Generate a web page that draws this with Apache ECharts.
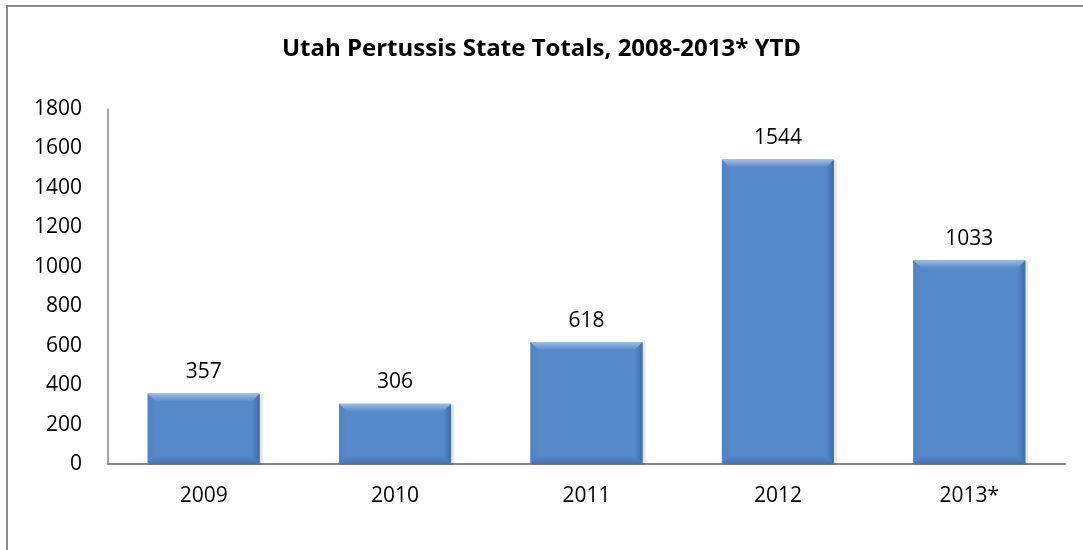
<!DOCTYPE html>
<html><head><meta charset="utf-8">
<script src="https://cdn.jsdelivr.net/npm/echarts@6/dist/echarts.min.js"></script>
<style>html,body{margin:0;padding:0;background:#fff}#c{width:1083px;height:550px}</style>
</head><body><div id="c"></div>
<script>
var categories = ['2009', '2010', '2011', '2012', '2013*'];
var values = [357, 306, 618, 1544, 1033];
var yTicks = [0, 200, 400, 600, 800, 1000, 1200, 1400, 1600, 1800];
var titleText = 'Utah Pertussis State Totals, 2008-2013* YTD';

var FONT = '"Open Sans", "Noto Sans", sans-serif';
var chart = echarts.init(document.getElementById('c'), null, {renderer: 'canvas'});
var G = echarts.graphic.LinearGradient;
var MAIN = '#5589C8';

function renderBar(params, api) {
  var i = api.value(0), v = api.value(1);
  var top = api.coord([i, v]);
  var base = api.coord([i, 0]);
  var band = api.size([1, 0])[0];
  var w = band * 0.585;
  var x0 = top[0] - w / 2, x1 = top[0] + w / 2;
  var y0 = top[1], y1 = base[1];
  var b = 8;
  var bb = Math.min(b, (y1 - y0) / 2);
  return {
    type: 'group',
    children: [
      {type: 'rect', shape: {x: x0 + 1, y: y0 + 1, width: w + 2, height: y1 - y0}, style: {fill: 'rgba(0,0,0,0.10)'}},
      {type: 'rect', shape: {x: x0, y: y0, width: w, height: y1 - y0}, style: {fill: MAIN}},
      {type: 'polygon', shape: {points: [[x0, y0], [x0 + b, y0 + bb], [x0 + b, y1 - bb], [x0, y1]]},
        style: {fill: new G(0, 0, 1, 0, [{offset: 0, color: '#4F82C2'}, {offset: 1, color: MAIN}])}},
      {type: 'polygon', shape: {points: [[x1, y0], [x1, y1], [x1 - b, y1 - bb], [x1 - b, y0 + bb]]},
        style: {fill: new G(0, 0, 1, 0, [{offset: 0, color: MAIN}, {offset: 1, color: '#3F6DA9'}])}},
      {type: 'polygon', shape: {points: [[x0, y1], [x0 + b, y1 - bb], [x1 - b, y1 - bb], [x1, y1]]},
        style: {fill: new G(0, 0, 0, 1, [{offset: 0, color: MAIN}, {offset: 1, color: '#4673B0'}])}},
      {type: 'polygon', shape: {points: [[x0, y0], [x1, y0], [x1 - b, y0 + bb], [x0 + b, y0 + bb]]},
        style: {fill: new G(0, 0, 0, 1, [{offset: 0, color: '#9DBDE8'}, {offset: 1, color: MAIN}])}},
      {type: 'text', style: {text: String(v), x: top[0], y: y0 - 11, align: 'center', verticalAlign: 'bottom',
        fill: '#000', font: '21px ' + FONT}}
    ]
  };
}

chart.setOption({
  animation: false,
  backgroundColor: '#fff',
  title: {
    text: titleText, left: 'center', top: 32,
    textStyle: {fontFamily: FONT, fontWeight: 'bold', fontSize: 24, color: '#000'}
  },
  graphic: [
    {type: 'polyline', silent: true, shape: {points: [[7, 560], [7, 6], [1090, 6]]},
      style: {stroke: '#8C8C8C', lineWidth: 2, fill: null}}
  ],
  grid: {left: 108, right: 18, top: 109, bottom: 86},
  xAxis: {
    type: 'category', data: categories,
    axisLine: {lineStyle: {color: '#868686', width: 2}},
    axisTick: {show: false},
    axisLabel: {fontFamily: FONT, fontSize: 21, color: '#000', margin: 22}
  },
  yAxis: {
    type: 'value', min: yTicks[0], max: yTicks[yTicks.length - 1], interval: 200,
    axisLine: {show: true, lineStyle: {color: '#868686', width: 1.5}},
    axisTick: {show: false},
    splitLine: {show: false},
    axisLabel: {fontFamily: FONT, fontSize: 21, color: '#000', margin: 26,
      formatter: function (v) { return String(v); }}
  },
  series: [{
    type: 'custom',
    renderItem: renderBar,
    data: values.map(function (v, i) { return [i, v]; }),
    encode: {x: 0, y: 1},
    z: 2
  }]
});
</script></body></html>
